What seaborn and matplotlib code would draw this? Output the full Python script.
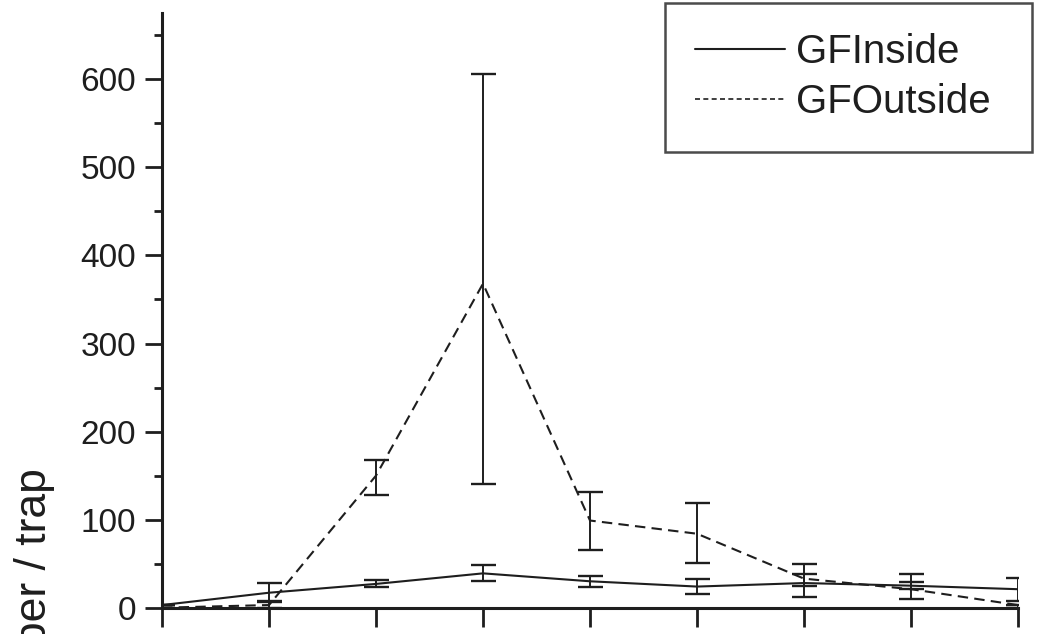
import numpy as np
import pandas as pd
import matplotlib
matplotlib.use("Agg")
import matplotlib.pyplot as plt
import seaborn as sns
from matplotlib.lines import Line2D
from matplotlib.ticker import MultipleLocator, NullFormatter

# ---- data ----
periods = [0, 1, 2, 3, 4, 5, 6, 7, 8]
series_names = ["GFInside", "GFOutside"]

gf_inside = [3, 17, 27, 39, 30, 24, 28, 25, 21]
gf_inside_lo = [3, 8, 23, 30, 24, 15, 25, 21, 8]
gf_inside_hi = [3, 28, 32, 49, 36, 33, 38, 29, 34]

gf_outside = [0, 3, 150, 368, 99, 84, 33, 21, 3]
gf_outside_lo = [0, 0, 128, 140, 66, 51, 12, 10, 0]
gf_outside_hi = [0, 7, 168, 606, 131, 119, 50, 38, 3]

y_label = "Number / trap"
ink = "#1e1e1e"

sns.set_theme(style="ticks")
plt.rcParams["font.family"] = ["Liberation Sans", "DejaVu Sans"]

fig = plt.figure(figsize=(10.47, 6.34), dpi=100)
ax = fig.add_axes([162 / 1047, 26.3 / 634, 856 / 1047, 594.4 / 634])

df = pd.DataFrame({
    "x": periods * 2,
    "value": gf_inside + gf_outside,
    "series": [series_names[0]] * len(periods) + [series_names[1]] * len(periods),
})
sns.lineplot(data=df, x="x", y="value", style="series",
             dashes={series_names[0]: "", series_names[1]: (5, 3)},
             color=ink, linewidth=1.5, ax=ax, legend=False)

for vals, lo, hi in [(gf_inside, gf_inside_lo, gf_inside_hi),
                     (gf_outside, gf_outside_lo, gf_outside_hi)]:
    v = np.array(vals, dtype=float)
    ax.errorbar(periods, v, yerr=[v - np.array(lo), np.array(hi) - v],
                fmt="none", ecolor=ink, elinewidth=1.4, capsize=9, capthick=1.7)

ax.set_xlim(0, 8)
ax.set_ylim(0, 675)
ax.set_xticks(periods)
ax.xaxis.set_major_formatter(NullFormatter())
ax.yaxis.set_major_locator(MultipleLocator(100))
ax.yaxis.set_minor_locator(MultipleLocator(50))

for s in ["top", "right"]:
    ax.spines[s].set_visible(False)
for s in ["left", "bottom"]:
    ax.spines[s].set_linewidth(2.2)
    ax.spines[s].set_color(ink)

ax.tick_params(axis="y", which="major", length=12, width=2, color=ink,
               direction="out", labelsize=24, pad=6.5, labelcolor=ink)
ax.tick_params(axis="y", which="minor", length=6, width=2, color=ink, direction="out")
ax.tick_params(axis="x", which="major", length=14, width=2, color=ink,
               direction="out", labelbottom=False)
ax.set_xlabel("")
ax.set_ylabel(y_label, fontsize=32, color=ink)
ax.yaxis.set_label_coords(-0.125, 0.0054)

handles = [Line2D([], [], color=ink, lw=1.5),
           Line2D([], [], color=ink, lw=1.2, dashes=(3, 2))]
leg = ax.legend(handles, series_names, loc="upper left", mode="expand",
                bbox_to_anchor=(665 / 1047, 1 - 147 / 634, 367 / 1047, 144 / 634),
                bbox_transform=fig.transFigure, borderaxespad=0,
                frameon=True, fancybox=False, edgecolor=ink, fontsize=29,
                handlelength=2.23, handletextpad=0.27, labelspacing=0.3,
                borderpad=0.75)
leg.get_frame().set_linewidth(1.8)
for t in leg.get_texts():
    t.set_color(ink)

fig.savefig("out.png", dpi=100)
